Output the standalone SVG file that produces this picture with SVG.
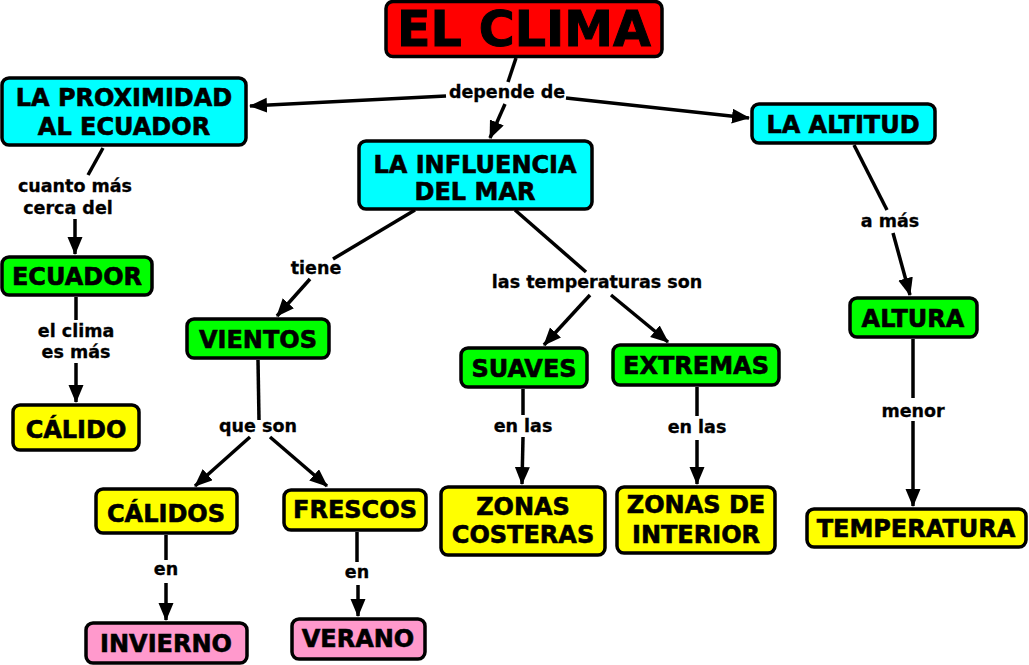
<svg xmlns="http://www.w3.org/2000/svg" width="1029" height="665" viewBox="0 0 1029 665">
<style>
.n rect{stroke:#000;stroke-width:3.5}
.n text{font-family:"DejaVu Sans",Verdana,sans-serif;font-weight:bold;font-size:24px;text-anchor:middle;fill:#000;stroke:#000;stroke-width:0.6}
.red{fill:#ff0000}.cy{fill:#00ffff}.gr{fill:#00ff00}.ye{fill:#ffff00}.pk{fill:#ff99cc}
.c line{stroke:#000;stroke-width:3.5;fill:none}
.c .a{marker-end:url(#ah)}
.lb text{font-family:"DejaVu Sans",Verdana,sans-serif;font-weight:bold;font-size:17.5px;text-anchor:middle;fill:#000;stroke:#000;stroke-width:0.3}
</style>
<defs>
<marker id="ah" markerUnits="userSpaceOnUse" markerWidth="20" markerHeight="16" refX="17" refY="7.5" orient="auto">
<path d="M0,0 L18,7.5 L0,15 z" fill="#000"/>
</marker>
</defs>
<rect width="1029" height="665" fill="#fff"/>
<g class="c">
<line x1="516" y1="58" x2="508" y2="82"/>
<line class="a" x1="446" y1="96" x2="250" y2="106"/>
<line class="a" x1="505" y1="104" x2="490" y2="138"/>
<line class="a" x1="566" y1="98" x2="749" y2="118"/>
<line x1="103" y1="148" x2="88" y2="175"/>
<line class="a" x1="75" y1="219" x2="75" y2="254"/>
<line x1="76" y1="297" x2="76" y2="320"/>
<line class="a" x1="76" y1="363" x2="76" y2="402"/>
<line x1="415" y1="210" x2="333" y2="259"/>
<line class="a" x1="310" y1="279" x2="277" y2="316"/>
<line x1="515" y1="210" x2="586" y2="272"/>
<line class="a" x1="590" y1="295" x2="544" y2="345"/>
<line class="a" x1="611" y1="295" x2="668" y2="342"/>
<line x1="854" y1="145" x2="887" y2="210"/>
<line class="a" x1="893" y1="233" x2="910" y2="295"/>
<line x1="258" y1="360" x2="259" y2="420"/>
<line class="a" x1="250" y1="437" x2="195" y2="486"/>
<line class="a" x1="270" y1="437" x2="327" y2="486"/>
<line x1="523" y1="389" x2="523" y2="415"/>
<line class="a" x1="523" y1="437" x2="522" y2="484"/>
<line x1="697" y1="387" x2="697" y2="416"/>
<line class="a" x1="697" y1="440" x2="697" y2="484"/>
<line x1="913" y1="339" x2="913" y2="398"/>
<line class="a" x1="913" y1="421" x2="913" y2="506"/>
<line x1="166" y1="535" x2="166" y2="560"/>
<line class="a" x1="166" y1="583" x2="166" y2="620"/>
<line x1="357" y1="532" x2="357" y2="562"/>
<line class="a" x1="358" y1="585" x2="358" y2="616"/>
</g>
<g class="lb">
<text x="507" y="98">depende de</text>
<text x="75" y="192">cuanto más</text>
<text x="68" y="214">cerca del</text>
<text x="76" y="337">el clima</text>
<text x="76" y="358">es más</text>
<text x="316" y="274">tiene</text>
<text x="258" y="432">que son</text>
<text x="597" y="288">las temperaturas son</text>
<text x="890" y="227">a más</text>
<text x="523" y="432">en las</text>
<text x="697" y="433">en las</text>
<text x="166" y="575">en</text>
<text x="357" y="578">en</text>
<text x="913" y="417">menor</text>
</g>
<g id="clima" class="n"><rect class="red" x="386" y="1.5" width="276" height="55" rx="7"/><text x="524" y="46" style="font-size:49px;stroke-width:1">EL CLIMA</text></g>
<g id="proximidad" class="n"><rect class="cy" x="2" y="78" width="244" height="67" rx="7"/><text x="124" y="106">LA PROXIMIDAD</text><text x="124" y="135">AL ECUADOR</text></g>
<g id="influencia" class="n"><rect class="cy" x="359" y="141" width="233" height="68" rx="7"/><text x="475" y="173">LA INFLUENCIA</text><text x="475" y="200">DEL MAR</text></g>
<g id="altitud" class="n"><rect class="cy" x="752" y="104" width="183" height="39" rx="7"/><text x="843" y="133">LA ALTITUD</text></g>
<g id="ecuador" class="n"><rect class="gr" x="2" y="257" width="150" height="38" rx="7"/><text x="77" y="285">ECUADOR</text></g>
<g id="calido" class="n"><rect class="ye" x="13" y="405" width="126" height="45" rx="7"/><text x="76" y="438">CÁLIDO</text></g>
<g id="vientos" class="n"><rect class="gr" x="187" y="319" width="142" height="39" rx="7"/><text x="258" y="348">VIENTOS</text></g>
<g id="suaves" class="n"><rect class="gr" x="461" y="348" width="126" height="39" rx="7"/><text x="524" y="377">SUAVES</text></g>
<g id="extremas" class="n"><rect class="gr" x="613" y="345" width="166" height="40" rx="7"/><text x="696" y="374">EXTREMAS</text></g>
<g id="altura" class="n"><rect class="gr" x="850" y="298" width="127" height="39" rx="7"/><text x="913" y="327">ALTURA</text></g>
<g id="costeras" class="n"><rect class="ye" x="441" y="487" width="164" height="68" rx="7"/><text x="523" y="515">ZONAS</text><text x="523" y="543">COSTERAS</text></g>
<g id="interior" class="n"><rect class="ye" x="617" y="487" width="158" height="66" rx="7"/><text x="696" y="513">ZONAS DE</text><text x="696" y="543">INTERIOR</text></g>
<g id="temperatura" class="n"><rect class="ye" x="807" y="509" width="219" height="38" rx="7"/><text x="916" y="537">TEMPERATURA</text></g>
<g id="calidos" class="n"><rect class="ye" x="96" y="489" width="141" height="44" rx="7"/><text x="166" y="522">CÁLIDOS</text></g>
<g id="frescos" class="n"><rect class="ye" x="284" y="490" width="142" height="40" rx="7"/><text x="355" y="518">FRESCOS</text></g>
<g id="invierno" class="n"><rect class="pk" x="86" y="623" width="161" height="40" rx="7"/><text x="166" y="652">INVIERNO</text></g>
<g id="verano" class="n"><rect class="pk" x="292" y="619" width="133" height="40" rx="7"/><text x="358" y="647">VERANO</text></g>
</svg>
